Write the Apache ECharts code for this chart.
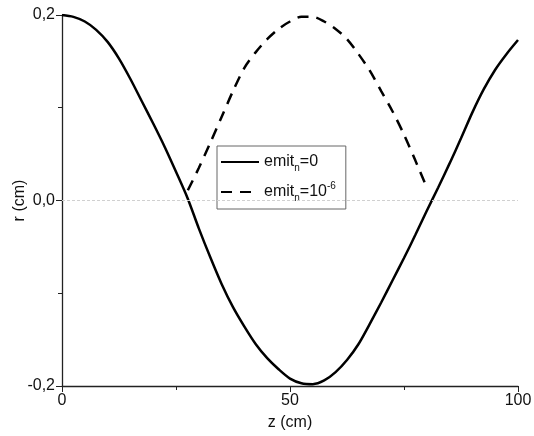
<!DOCTYPE html>
<html>
<head>
<meta charset="utf-8">
<script src="https://cdn.jsdelivr.net/npm/echarts@6/dist/echarts.min.js"></script>
<style>
  html, body { margin: 0; padding: 0; background: #fff; }
  #chart { width: 534px; height: 436px; }
</style>
</head>
<body>
<div id="chart"></div>
<script>
  // z (cm) and r (cm)
  var zSolid = [0, 2.5, 5, 7.5, 10, 12.5, 15, 17.5, 20, 22.5, 25, 27.5, 30, 32.5, 35, 37.5, 40, 42.5, 45, 47.5,
                50, 52.5, 55, 57.5, 60, 62.5, 65, 67.5, 70, 72.5, 75, 77.5, 80, 82.5, 85, 87.5, 90, 92.5, 95, 97.5, 100]
  var rSolid = [0.200, 0.198, 0.193, 0.184, 0.171, 0.153, 0.131, 0.107, 0.083, 0.058, 0.031, 0.003, -0.030, -0.061,
                -0.090, -0.115, -0.136, -0.155, -0.170, -0.182, -0.192, -0.197, -0.198, -0.194, -0.185, -0.172,
                -0.155, -0.133, -0.110, -0.086, -0.062, -0.037, -0.011, 0.014, 0.040, 0.067, 0.095, 0.120, 0.141,
                0.158, 0.173]
  var zDash = [27.6, 30, 32.5, 35, 37.5, 40, 42.5, 45, 47.5, 50, 52.5, 55, 57.5, 60, 62.5, 65, 67.5, 70, 72.5, 75, 77.5, 80]
  var rDash = [0.011, 0.035, 0.062, 0.090, 0.118, 0.143, 0.160, 0.174, 0.185, 0.193, 0.198, 0.198, 0.193, 0.185,
               0.174, 0.158, 0.140, 0.118, 0.096, 0.071, 0.043, 0.014]
  var xTicks = [0, 50, 100]
  var yTicks = [-0.2, 0, 0.2]

  function pairs(xs, ys) {
    return xs.map(function (x, i) { return [x, ys[i]] })
  }

  var chart = echarts.init(document.getElementById('chart'))
  var font = 'Liberation Sans, Arial, sans-serif'

  chart.setOption({
    animation: false,
    textStyle: { fontFamily: font },
    grid: { left: 62, right: 16, top: 15, bottom: 50, containLabel: false, outerBoundsMode: 'none' },
    legend: {
      orient: 'vertical',
      left: 217,
      top: 146,
      itemWidth: 38,
      itemHeight: 10,
      itemGap: 8,
      padding: [8, 10, 6, 3],
      borderColor: '#666',
      borderWidth: 1,
      backgroundColor: '#fff',
      itemStyle: { opacity: 0 },
      data: ['s0', 's1'],
      formatter: function (name) {
        return name === 's0' ? '{a|emit}{s|n}{a|=0}' : '{a|emit}{s|n}{a|=10}{p|-6}'
      },
      textStyle: {
        rich: {
          a: { fontSize: 16, color: '#111', fontFamily: font, lineHeight: 22, verticalAlign: 'middle' },
          s: { fontSize: 10, color: '#111', fontFamily: font, lineHeight: 22, verticalAlign: 'bottom' },
          p: { fontSize: 10, color: '#111', fontFamily: font, lineHeight: 22, verticalAlign: 'top' }
        }
      }
    },
    xAxis: {
      type: 'value',
      min: 0,
      max: 100,
      interval: 50,
      name: 'z (cm)',
      nameLocation: 'middle',
      nameGap: 29,
      nameMoveOverlap: false,
      nameTextStyle: { fontSize: 16, color: '#111' },
      axisLine: { onZero: false, lineStyle: { color: '#222', width: 1.3 } },
      axisTick: { inside: false, length: 6, lineStyle: { color: '#222' } },
      minorTick: { show: true, splitNumber: 2, length: 4, lineStyle: { color: '#222' } },
      axisLabel: { fontSize: 16, color: '#111', margin: 7,
        formatter: function (v) { return xTicks.indexOf(v) >= 0 ? String(v) : '' } },
      splitLine: { show: false }
    },
    yAxis: {
      type: 'value',
      min: -0.2,
      max: 0.2,
      interval: 0.2,
      name: 'r (cm)',
      nameLocation: 'middle',
      nameGap: 34,
      nameMoveOverlap: false,
      nameTextStyle: { fontSize: 16, color: '#111' },
      axisLine: { show: true, onZero: false, lineStyle: { color: '#222', width: 1.3 } },
      axisTick: { show: true, inside: false, length: 6, lineStyle: { color: '#222' } },
      minorTick: { show: true, splitNumber: 2, length: 4, lineStyle: { color: '#222' } },
      axisLabel: { fontSize: 16, color: '#111', margin: 7,
        formatter: function (v) {
          var t = yTicks.find(function (k) { return Math.abs(k - v) < 1e-9 })
          return t === undefined ? '' : t.toFixed(1).replace('.', ',')
        } },
      splitLine: { show: false }
    },
    series: [
      {
        name: 's0',
        type: 'line',
        smooth: 0.3,
        symbol: 'none',
        lineStyle: { color: '#000', width: 2.5 },
        itemStyle: { color: '#000' },
        data: pairs(zSolid, rSolid),
        markLine: {
          silent: true,
          symbol: 'none',
          label: { show: false },
          lineStyle: { color: '#d0d0d0', type: [3, 2], width: 1 },
          data: [{ yAxis: 0 }]
        },
        z: 3
      },
      {
        name: 's1',
        type: 'line',
        smooth: 0.3,
        symbol: 'none',
        lineStyle: { color: '#000', width: 2.5, type: [11, 8] },
        itemStyle: { color: '#000' },
        data: pairs(zDash, rDash),
        z: 3
      }
    ]
  })
</script>
</body>
</html>
